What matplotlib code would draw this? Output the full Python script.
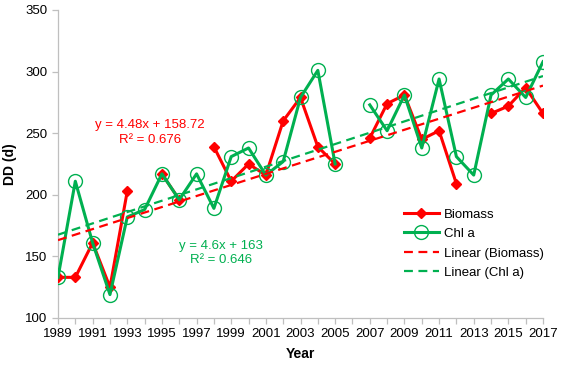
import numpy as np
import matplotlib
matplotlib.use('Agg')
import matplotlib.pyplot as plt

plt.rcParams['font.family'] = ['Liberation Sans', 'DejaVu Sans']

RED = '#FF0000'
GREEN = '#00B050'
GREY = '#BFBFBF'

nan = np.nan
years = list(range(1989, 2018))
biomass = [133, 133, 161, 125, 203, nan, 217, 196, nan, 239,
           211, 225, 216, 260, 279, 239, 225, nan, 246, 274,
           281, 245, 252, 209, nan, 266, 272, 287, 266]
chla = [133, 211, 161, 119, 182, 188, 217, 196, 217, 189,
        231, 238, 216, 227, 279, 301, 225, nan, 273, 252,
        281, 238, 294, 231, 216, 281, 294, 279, 308]

# trendline coefficients as printed on the chart (x = 1..n)
fit_biomass = (4.48, 158.72, 0.676)
fit_chla = (4.6, 163, 0.646)
xtick_labels = [str(y) for y in years[::2]]

fig = plt.figure(figsize=(5.65, 3.72), dpi=100)
ax = fig.add_axes([58 / 565, 1 - 318 / 372, 485 / 565, 308 / 372])

x = np.array(years)
idx = np.arange(1, len(years) + 1)

ax.plot(x, biomass, color=RED, lw=2.2, marker='D', ms=5.5, mfc=RED, mec=RED,
        label='Biomass', zorder=3)
ax.plot(x, chla, color=GREEN, lw=2.2, marker='o', ms=10, mfc='none', mec=GREEN,
        mew=1.0, label='Chl a', zorder=4)
ax.plot(x, fit_biomass[0] * idx + fit_biomass[1], color=RED, lw=1.6, ls=(0, (4, 2.5)),
        label='Linear (Biomass)', zorder=5)
ax.plot(x, fit_chla[0] * idx + fit_chla[1], color=GREEN, lw=1.6, ls=(0, (4, 2.5)),
        label='Linear (Chl a)', zorder=5)

ax.set_xlim(1989, 2017)
ax.set_ylim(100, 350)
ax.set_yticks(range(100, 351, 50))
ax.set_xticks(years[::2])
ax.set_xticklabels(xtick_labels)
ax.set_xticks(years, minor=True)

for s in ['top', 'right']:
    ax.spines[s].set_visible(False)
for s in ['left', 'bottom']:
    ax.spines[s].set_color(GREY)
    ax.spines[s].set_linewidth(0.9)
ax.tick_params(which='both', direction='out', color=GREY, length=4, width=0.9,
               labelsize=9.5, labelcolor='#000000')
ax.tick_params(axis='x', pad=3)

ax.set_xlabel('Year', fontsize=10, fontweight='bold', labelpad=5)
ax.set_ylabel('DD (d)', fontsize=10, fontweight='bold', labelpad=6)

# trendline equations
ax.text(1994.3, 250.5, f'y = {fit_biomass[0]}x + {fit_biomass[1]}\nR² = {fit_biomass[2]}',
        color=RED, fontsize=9.5, ha='center', va='center', linespacing=1.25)
ax.text(1998.4, 152.5, f'y = {fit_chla[0]}x + {fit_chla[1]}\nR² = {fit_chla[2]}',
        color=GREEN, fontsize=9.5, ha='center', va='center', linespacing=1.25)

ax.legend(loc='upper left', bbox_to_anchor=(0.703, 1 - 203 / 308 + 10 / 308),
          frameon=False, fontsize=9.5, handlelength=2.6, handletextpad=0.4,
          labelspacing=0.55, borderaxespad=0)

fig.savefig('out.png', dpi=100)
